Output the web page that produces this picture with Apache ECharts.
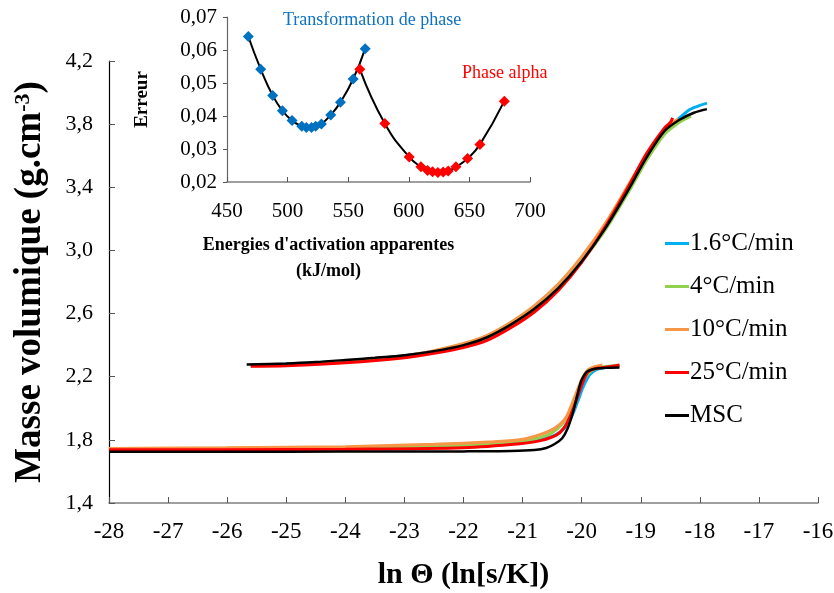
<!DOCTYPE html>
<html>
<head>
<meta charset="utf-8">
<script src="https://cdn.jsdelivr.net/npm/echarts@6/dist/echarts.min.js"></script>
<style>html,body{margin:0;padding:0;background:#fff}#c{width:834px;height:593px}</style>
</head>
<body>
<div id="c"></div>
<script>
// ---------- Data ----------
const rateNames = ['1.6°C/min', '4°C/min', '10°C/min', '25°C/min', 'MSC'];
const rateColors = ['#00B0F0', '#92D050', '#F79646', '#FF0000', '#000000'];

// lower branch (phase transformation)
const low16 = [[-28,1.741],[-26,1.743],[-24,1.747],[-22,1.758],[-21.05,1.780],[-20.7,1.80],[-20.45,1.83],[-20.3,1.87],[-20.18,1.94],[-20.08,2.03],[-19.98,2.13],[-19.87,2.21],[-19.75,2.245],[-19.6,2.258],[-19.4,2.266]];
const low4 = [[-28,1.744],[-26,1.747],[-24,1.752],[-22,1.765],[-21.05,1.79],[-20.75,1.81],[-20.5,1.845],[-20.33,1.90],[-20.2,1.98],[-20.08,2.09],[-19.97,2.18],[-19.85,2.235],[-19.7,2.258],[-19.5,2.268],[-19.36,2.272]];
const low10 = [[-28,1.746],[-26,1.750],[-24,1.757],[-22.5,1.772],[-21.5,1.788],[-21.05,1.80],[-20.83,1.818],[-20.55,1.855],[-20.38,1.895],[-20.26,1.945],[-20.12,2.07],[-20.0,2.18],[-19.9,2.24],[-19.78,2.263],[-19.65,2.274]];
const low25 = [[-28,1.737],[-26,1.738],[-24,1.741],[-22,1.75],[-21.05,1.775],[-20.7,1.795],[-20.43,1.83],[-20.3,1.875],[-20.2,1.945],[-20.1,2.04],[-20.03,2.116],[-19.91,2.223],[-19.8,2.248],[-19.69,2.256],[-19.5,2.265],[-19.36,2.274]];
const lowMSC = [[-28,1.725],[-26,1.725],[-24,1.726],[-22,1.727],[-21.2,1.729],[-20.8,1.735],[-20.6,1.748],[-20.45,1.775],[-20.33,1.81],[-20.24,1.87],[-20.15,1.97],[-20.07,2.09],[-20.0,2.18],[-19.9,2.235],[-19.75,2.252],[-19.6,2.256],[-19.36,2.258]];

// upper branch (alpha phase)
const up16 = [[-25.6,2.272],[-25,2.279],[-24,2.30],[-23,2.333],[-22.5,2.362],[-22,2.40],[-21.6,2.448],[-21.2,2.53],[-20.8,2.632],[-20.4,2.762],[-20,2.935],[-19.6,3.14],[-19.2,3.385],[-18.9,3.585],[-18.6,3.752],[-18.4,3.82],[-18.2,3.885],[-18.06,3.91],[-17.88,3.933]];
const up4 = [[-25.6,2.270],[-25,2.277],[-24,2.296],[-23,2.330],[-22.5,2.358],[-22,2.397],[-21.6,2.445],[-21.2,2.527],[-20.8,2.627],[-20.4,2.757],[-20,2.93],[-19.6,3.13],[-19.2,3.375],[-18.9,3.572],[-18.6,3.735],[-18.35,3.81],[-18.15,3.85]];
const up10 = [[-25.6,2.270],[-25,2.276],[-24,2.298],[-23,2.333],[-22.5,2.365],[-22,2.41],[-21.6,2.462],[-21.2,2.545],[-20.8,2.65],[-20.4,2.785],[-20,2.96],[-19.6,3.17],[-19.2,3.42],[-18.9,3.605],[-18.6,3.762],[-18.37,3.832]];
const up25 = [[-25.6,2.266],[-25,2.270],[-24,2.288],[-23,2.320],[-22.5,2.348],[-22,2.385],[-21.6,2.43],[-21.2,2.51],[-20.8,2.61],[-20.4,2.745],[-20,2.925],[-19.6,3.15],[-19.2,3.41],[-18.9,3.615],[-18.6,3.775],[-18.5,3.81],[-18.46,3.84]];
const upMSC = [[-25.67,2.278],[-25,2.284],[-24.5,2.293],[-24,2.306],[-23.5,2.32],[-23,2.336],[-22.5,2.362],[-22,2.40],[-21.6,2.45],[-21.2,2.53],[-20.8,2.63],[-20.4,2.76],[-20.0,2.93],[-19.6,3.14],[-19.2,3.39],[-18.9,3.59],[-18.6,3.755],[-18.35,3.826],[-18.1,3.872],[-17.88,3.895]];

// inset: error vs apparent activation energy
const transE = [467.6,477.8,487.7,495.7,503.7,511.7,515.5,519.7,523.2,527.9,535.6,543.6,554.1,564.0];
const transErr = [0.0641,0.0542,0.0462,0.0416,0.0386,0.0369,0.0365,0.0365,0.0369,0.0376,0.0403,0.0442,0.0512,0.0604];
const alphaE = [559.6,580.2,600.3,610.0,615.5,619.6,624.0,628.4,632.5,638.9,648.5,658.7,678.8];
const alphaErr = [0.0542,0.0377,0.0276,0.0246,0.0235,0.0231,0.0229,0.0230,0.0233,0.0246,0.0271,0.0314,0.0445];

const xTicks = {min: -28, max: -16, interval: 1};
const yTicks = {min: 1.4, max: 4.2, interval: 0.4};
const insetXTicks = {min: 450, max: 700, interval: 50};
const insetYTicks = {min: 0.02, max: 0.07, interval: 0.01};

// ---------- Chart ----------
const FONT = '"Liberation Serif", "Times New Roman", serif';
const chart = echarts.init(document.getElementById('c'), null, {renderer: 'canvas'});

const lowSets = [low16, low4, low10, low25, lowMSC];
const upSets = [up16, up4, up10, up25, upMSC];
const series = [];
[0, 1, 2, 3, 4].forEach(i => {
  [lowSets[i], upSets[i]].forEach(d => {
    series.push({
      name: rateNames[i], type: 'line', xAxisIndex: 0, yAxisIndex: 0,
      data: d, showSymbol: false, symbol: 'none', smooth: 0.3,
      lineStyle: {color: rateColors[i], width: i === 4 ? 2.5 : 3},
      itemStyle: {color: rateColors[i]}, z: 2 + i
    });
  });
});
series.push({
  name: 'Transformation de phase', type: 'line', xAxisIndex: 1, yAxisIndex: 1,
  data: transE.map((e, k) => [e, transErr[k]]), smooth: 0.5,
  symbol: 'diamond', symbolSize: 11, lineStyle: {color: '#000', width: 2},
  itemStyle: {color: '#0070C0'}, z: 10
});
series.push({
  name: 'Phase alpha', type: 'line', xAxisIndex: 1, yAxisIndex: 1,
  data: alphaE.map((e, k) => [e, alphaErr[k]]), smooth: 0.5,
  symbol: 'diamond', symbolSize: 11, lineStyle: {color: '#000', width: 2},
  itemStyle: {color: '#FF0000'}, z: 10
});

const option = {
  animation: false,
  backgroundColor: '#fff',
  textStyle: {fontFamily: FONT},
  grid: [
    {left: 109, right: 16, top: 61, bottom: 90, outerBoundsMode: 'none', containLabel: false},
    {left: 227, top: 17, width: 303, height: 165, outerBoundsMode: 'none', containLabel: false}
  ],
  legend: {
    data: rateNames, orient: 'vertical', left: 660, top: 226,
    icon: 'rect', itemWidth: 24, itemHeight: 3, itemGap: 18,
    textStyle: {fontFamily: FONT, fontSize: 25, color: '#000', padding: [0, 0, 0, -4]}
  },
  xAxis: [
    {
      type: 'value', gridIndex: 0, min: xTicks.min, max: xTicks.max, interval: xTicks.interval,
      name: 'ln Θ (ln[s/K])', nameLocation: 'middle', nameGap: 57,
      nameTextStyle: {fontFamily: FONT, fontSize: 30, fontWeight: 'bold', color: '#000'},
      axisLine: {onZero: false, lineStyle: {color: '#808080', width: 1.5}},
      axisTick: {inside: true, length: 6, lineStyle: {color: '#555'}},
      axisLabel: {fontFamily: FONT, fontSize: 23, color: '#000', margin: 17, formatter: v => String(v)},
      splitLine: {show: false}
    },
    {
      type: 'value', gridIndex: 1, min: insetXTicks.min, max: insetXTicks.max, interval: insetXTicks.interval,
      name: "Energies d'activation apparentes\n(kJ/mol)", nameLocation: 'middle', nameGap: 50,
      nameTextStyle: {fontFamily: FONT, fontSize: 18, fontWeight: 'bold', color: '#000', lineHeight: 26, padding: [0, 100, 0, 0]},
      axisLine: {onZero: false, lineStyle: {color: '#808080', width: 1.5}},
      axisTick: {inside: true, length: 5, lineStyle: {color: '#555'}},
      axisLabel: {fontFamily: FONT, fontSize: 21, color: '#000', margin: 19},
      splitLine: {show: false}
    }
  ],
  yAxis: [
    {
      type: 'value', gridIndex: 0, min: yTicks.min, max: yTicks.max, interval: yTicks.interval,
      name: '{a|Masse volumique (g.cm}{s|-3}{a|)}', nameLocation: 'middle', nameGap: 60, nameRotate: 90,
      nameTextStyle: {
        rich: {
          a: {fontFamily: FONT, fontSize: 37, fontWeight: 'bold', color: '#000'},
          s: {fontFamily: FONT, fontSize: 22, fontWeight: 'bold', color: '#000', verticalAlign: 'top', padding: [0, 0, 14, 0]}
        }
      },
      axisLine: {show: true, lineStyle: {color: '#000', width: 1.2}},
      axisTick: {show: true, inside: true, length: 6, lineStyle: {color: '#555'}},
      axisLabel: {fontFamily: FONT, fontSize: 22, color: '#000', margin: 16, formatter: v => v.toFixed(1).replace('.', ',')},
      splitLine: {show: false}
    },
    {
      type: 'value', gridIndex: 1, min: insetYTicks.min, max: insetYTicks.max, interval: insetYTicks.interval,
      name: 'Erreur', nameLocation: 'middle', nameGap: 75, nameRotate: 90,
      nameTextStyle: {fontFamily: FONT, fontSize: 19, fontWeight: 'bold', color: '#000'},
      axisLine: {show: true, lineStyle: {color: '#666', width: 1.2}},
      axisTick: {show: true, inside: false, length: 4, lineStyle: {color: '#555'}},
      axisLabel: {fontFamily: FONT, fontSize: 21, color: '#000', margin: 10, formatter: v => v.toFixed(2).replace('.', ',')},
      splitLine: {show: false}
    }
  ],
  graphic: [
    {type: 'text', left: 283, top: 11, style: {text: 'Transformation de phase', fontFamily: FONT, fontSize: 18, fill: '#0E72C4'}},
    {type: 'text', left: 462, top: 64, style: {text: 'Phase alpha', fontFamily: FONT, fontSize: 18, fill: '#FF0000'}}
  ],
  series: series
};
chart.setOption(option);
</script>
</body>
</html>
